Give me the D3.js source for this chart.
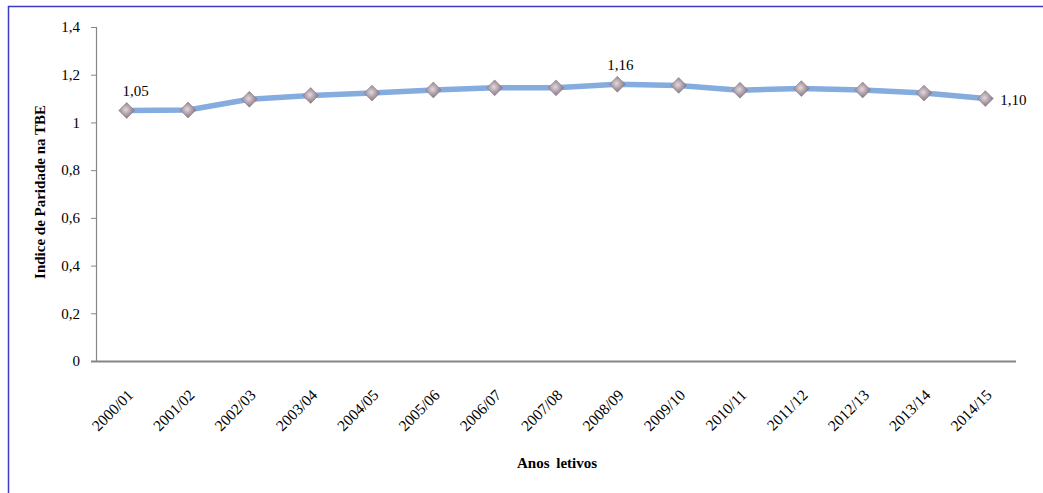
<!DOCTYPE html>
<html>
<head>
<meta charset="utf-8">
<script src="https://cdn.jsdelivr.net/npm/d3@7"></script>
<style>
  html, body { margin: 0; padding: 0; background: #fff; }
  svg { display: block; }
  svg text { font-family: "Liberation Serif", "DejaVu Serif", serif !important; fill: #000; }
</style>
</head>
<body>
<svg id="chart" width="1043" height="493"></svg>
<script>
// School years and the parity index (TBE) for each one
const years = ["2000/01","2001/02","2002/03","2003/04","2004/05","2005/06","2006/07",
  "2007/08","2008/09","2009/10","2010/11","2011/12","2012/13","2013/14","2014/15"];
const parity = [1.05, 1.052, 1.097, 1.113, 1.123, 1.136, 1.145, 1.145, 1.16, 1.155,
  1.135, 1.142, 1.136, 1.123, 1.10];
const labelled = [0, 8, 14];
const yTicks = [0, 0.2, 0.4, 0.6, 0.8, 1, 1.2, 1.4];

const serif = "'Liberation Serif', 'DejaVu Serif', serif";
const svg = d3.select("#chart").style("font-family", serif);
const fmt = v => d3.format(".2f")(v).replace(".", ",");
const tickFmt = v => (v === 0 || v === 1) ? String(v) : d3.format(".1f")(v).replace(".", ",");

// frame
svg.append("rect").attr("x", 8.5).attr("y", 6.5).attr("width", 1040).attr("height", 490)
  .attr("fill", "none").attr("stroke", "#3b3bc4").attr("stroke-width", 1.5);

const plotLeft = 96, plotRight = 1016, plotTop = 27, plotBottom = 361;
const x = d3.scalePoint().domain(years).range([plotLeft, plotRight]).padding(0.5);
const y = d3.scaleLinear().domain([0, 1.4]).range([plotBottom, plotTop]);

// y axis
const yAxis = svg.append("g").attr("transform", `translate(${plotLeft},0)`)
  .call(d3.axisLeft(y).tickValues(yTicks).tickFormat(tickFmt).tickSize(5).tickPadding(11));
yAxis.attr("font-family", null).attr("font-size", null);
yAxis.select(".domain").attr("stroke", "#868686").attr("stroke-width", 1.2);
yAxis.selectAll(".tick line").attr("stroke", "#868686");
yAxis.selectAll(".tick text").style("font-size", "15px");

// x axis
const xAxis = svg.append("g").attr("transform", `translate(0,${plotBottom})`)
  .call(d3.axisBottom(x).tickSize(0).tickPadding(0));
xAxis.attr("font-family", null).attr("font-size", null);
xAxis.select(".domain").attr("stroke", "#868686").attr("stroke-width", 2)
  .attr("d", `M${plotLeft - 5},0.5H${plotRight}`);
xAxis.selectAll(".tick text")
  .style("font-size", "15.5px")
  .attr("text-anchor", "end")
  .attr("dy", 0)
  .attr("transform", "translate(7,35) rotate(-45)");

// axis titles
svg.append("text").attr("transform", "translate(45,192) rotate(-90)")
  .attr("text-anchor", "middle").style("font-size", "15px").attr("font-weight", "bold")
  .text("Indice de Paridade na TBE");
svg.append("text").attr("x", 557).attr("y", 468)
  .attr("text-anchor", "middle").style("font-size", "15px").attr("font-weight", "bold")
  .attr("word-spacing", 3)
  .text("Anos letivos");

// marker shading
const defs = svg.append("defs");
const grad = defs.append("radialGradient").attr("id", "gem")
  .attr("cx", "45%").attr("cy", "45%").attr("r", "60%");
grad.append("stop").attr("offset", "0%").attr("stop-color", "#e2d9e0");
grad.append("stop").attr("offset", "55%").attr("stop-color", "#a99aa4");
grad.append("stop").attr("offset", "100%").attr("stop-color", "#7d6d78");

// line
const line = d3.line().x((d, i) => x(years[i])).y(d => y(d));
svg.append("path").datum(parity).attr("d", line)
  .attr("fill", "none").attr("stroke", "#84acdf").attr("stroke-width", 5.5)
  .attr("stroke-linejoin", "round");

// diamond markers
const diamond = d3.symbol().type(d3.symbolDiamond2).size(160);
svg.append("g").selectAll("path").data(parity).join("path")
  .attr("d", diamond)
  .attr("transform", (d, i) => `translate(${x(years[i])},${y(d)})`)
  .attr("fill", "url(#gem)").attr("stroke", "#8c7d88").attr("stroke-width", 0.6);

// value labels
const labelPos = { 0: [9, -15, "middle"], 8: [3, -14, "middle"], 14: [15, 6, "start"] };
svg.append("g").selectAll("text").data(labelled).join("text")
  .attr("x", i => x(years[i]) + labelPos[i][0])
  .attr("y", i => y(parity[i]) + labelPos[i][1])
  .attr("text-anchor", i => labelPos[i][2])
  .style("font-size", "15px")
  .text(i => fmt(parity[i]));
</script>
</body>
</html>
